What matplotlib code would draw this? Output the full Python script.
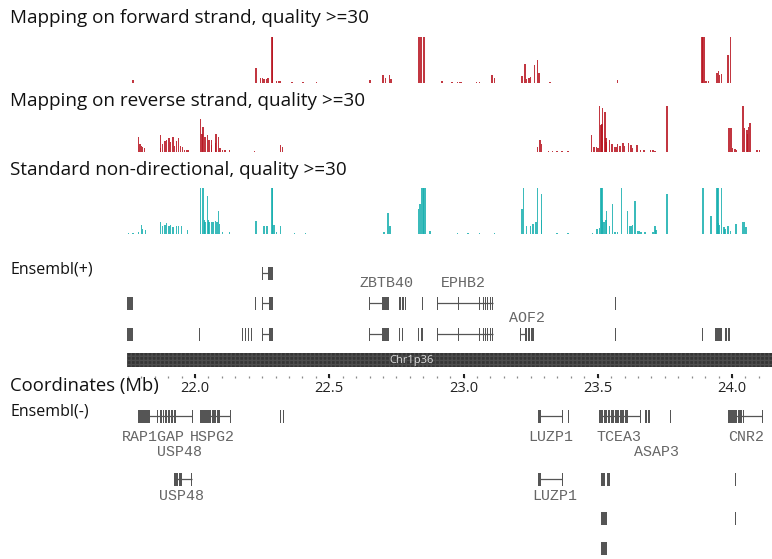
import matplotlib
matplotlib.use("Agg")
import matplotlib.pyplot as plt
from matplotlib.patches import Rectangle
import numpy as np

# ---------------- data ----------------
# coverage tracks: genomic position (Mb) and relative read depth (0-100)
fwd_pos = [21.769, 22.227, 22.243, 22.250, 22.257, 22.265, 22.272, 22.287, 22.290, 22.305, 22.313,
           22.320, 22.361, 22.402, 22.451, 22.652, 22.700, 22.711, 22.723, 22.730, 22.831, 22.838,
           22.845, 22.853, 22.920, 22.957, 22.979, 22.987, 22.994, 23.050, 23.061, 23.106, 23.114,
           23.218, 23.229, 23.236, 23.244, 23.251, 23.266, 23.277, 23.281, 23.322, 23.572, 23.888,
           23.892, 23.896, 23.903, 23.911, 23.944, 23.950, 23.955, 23.962, 23.985, 23.993]
fwd_val = [7, 33, 10, 11, 9, 8, 10, 100, 100, 5, 4,
           5, 3, 3, 3, 6, 17, 11, 17, 8, 100, 100,
           100, 100, 4, 3, 3, 3, 3, 3, 3, 17, 11,
           15, 41, 8, 10, 13, 39, 50, 22, 2, 6, 100,
           100, 100, 4, 4, 22, 26, 17, 20, 60, 100]

rev_pos = [21.791, 21.795, 21.800, 21.806, 21.813, 21.870, 21.873, 21.880, 21.888, 21.895, 21.903,
           21.910, 21.918, 21.925, 21.932, 21.940, 21.947, 21.955, 21.962, 21.970, 21.977, 22.022,
           22.026, 22.030, 22.037, 22.045, 22.052, 22.060, 22.063, 22.075, 22.078, 22.086, 22.093,
           22.101, 22.112, 22.127, 22.223, 22.317, 22.325, 23.277, 23.285, 23.289, 23.315, 23.333,
           23.348, 23.367, 23.389, 23.478, 23.486, 23.494, 23.501, 23.508, 23.512, 23.516, 23.519,
           23.527, 23.531, 23.534, 23.545, 23.553, 23.564, 23.571, 23.575, 23.583, 23.594, 23.601,
           23.616, 23.624, 23.631, 23.646, 23.660, 23.672, 23.695, 23.706, 23.713, 23.758, 23.989,
           23.996, 24.003, 24.011, 24.018, 24.041, 24.048, 24.056, 24.059, 24.063, 24.067, 24.093,
           24.101]
rev_val = [33, 17, 13, 11, 9, 8, 37, 18, 25, 26, 30,
           22, 33, 12, 25, 30, 14, 10, 5, 4, 4, 72,
           40, 55, 33, 37, 26, 26, 15, 20, 39, 33, 8,
           5, 5, 4, 3, 15, 10, 10, 26, 18, 3, 3,
           3, 3, 2, 37, 10, 11, 9, 100, 59, 60, 96,
           87, 30, 22, 26, 17, 11, 10, 17, 13, 20, 12,
           20, 15, 8, 15, 5, 4, 4, 4, 3, 100, 52,
           52, 8, 6, 5, 100, 52, 48, 40, 54, 63, 4,
           4]

std_pos = [21.751, 21.769, 21.788, 21.802, 21.806, 21.817, 21.873, 21.880, 21.888, 21.895, 21.903,
           21.910, 21.918, 21.932, 21.940, 21.951, 21.973, 22.022, 22.030, 22.034, 22.037, 22.045,
           22.049, 22.052, 22.060, 22.067, 22.075, 22.082, 22.086, 22.090, 22.104, 22.130, 22.227,
           22.257, 22.268, 22.287, 22.290, 22.294, 22.305, 22.320, 22.369, 22.410, 22.704, 22.719,
           22.726, 22.831, 22.838, 22.845, 22.849, 22.853, 22.857, 22.875, 22.979, 23.017, 23.061,
           23.117, 23.218, 23.225, 23.236, 23.248, 23.259, 23.270, 23.277, 23.289, 23.292, 23.348,
           23.389, 23.482, 23.497, 23.505, 23.512, 23.516, 23.519, 23.523, 23.531, 23.534, 23.545,
           23.556, 23.564, 23.575, 23.590, 23.612, 23.620, 23.627, 23.631, 23.639, 23.650, 23.657,
           23.661, 23.676, 23.706, 23.713, 23.717, 23.758, 23.892, 23.922, 23.944, 23.948, 23.951,
           23.955, 23.962, 23.970, 23.974, 23.985, 23.993, 24.015, 24.041, 24.048, 24.052]
std_val = [2, 3, 4, 20, 11, 9, 26, 17, 20, 24, 17,
           20, 15, 17, 17, 17, 9, 100, 100, 30, 26, 83,
           30, 26, 26, 26, 28, 26, 50, 22, 4, 4, 28,
           17, 17, 100, 100, 20, 5, 17, 3, 3, 4, 46,
           17, 54, 65, 100, 100, 100, 100, 6, 3, 3, 3,
           3, 54, 100, 17, 17, 22, 26, 100, 30, 87, 3,
           3, 3, 11, 13, 100, 100, 30, 26, 30, 50, 17,
           65, 5, 4, 100, 50, 17, 17, 20, 72, 6, 6,
           5, 4, 5, 17, 8, 87, 100, 39, 100, 100, 25,
           20, 100, 15, 11, 17, 6, 22, 26, 26, 15]

track_titles = ["Mapping on forward strand, quality >=30",
                "Mapping on reverse strand, quality >=30",
                "Standard non-directional, quality >=30"]

# gene models: (row, intron start, intron end, exons [(start, end)])
plus_genes = [
    (0, 22.250, 22.272, [(22.250, 22.252), (22.272, 22.290)]),
    (1, None, None, [(21.748, 21.768)]),
    (1, None, None, [(22.222, 22.224)]),
    (1, 22.250, 22.276, [(22.250, 22.252), (22.276, 22.290)]),
    (1, 22.648, 22.696, [(22.648, 22.650), (22.696, 22.722)]),
    (1, None, None, [(22.760, 22.766), (22.771, 22.777), (22.782, 22.787)]),
    (1, None, None, [(22.844, 22.846)]),
    (1, 22.901, 23.110, [(22.901, 22.902), (22.979, 22.981), (23.058, 23.060), (23.071, 23.074),
                         (23.080, 23.083), (23.088, 23.091), (23.097, 23.100), (23.106, 23.110)]),
    (1, None, None, [(23.563, 23.565)]),
    (2, None, None, [(21.748, 21.768)]),
    (2, None, None, [(22.014, 22.016)]),
    (2, None, None, [(22.174, 22.178), (22.185, 22.189), (22.196, 22.200), (22.207, 22.211)]),
    (2, 22.250, 22.276, [(22.250, 22.252), (22.276, 22.290)]),
    (2, 22.648, 22.696, [(22.648, 22.650), (22.696, 22.722)]),
    (2, None, None, [(22.760, 22.765), (22.770, 22.775)]),
    (2, None, None, [(22.831, 22.836), (22.842, 22.848)]),
    (2, 22.901, 23.110, [(22.901, 22.902), (22.979, 22.981), (23.058, 23.060), (23.071, 23.074),
                         (23.080, 23.083), (23.088, 23.091), (23.097, 23.100), (23.106, 23.110)]),
    (2, 23.210, 23.229, [(23.210, 23.212), (23.229, 23.236), (23.240, 23.248), (23.252, 23.262)]),
    (2, None, None, [(23.563, 23.565)]),
    (2, None, None, [(23.887, 23.889)]),
    (2, None, None, [(23.937, 23.950), (23.953, 23.963)]),
    (2, None, None, [(23.974, 23.982), (23.985, 23.993)]),
]
minus_genes = [
    (0, 21.788, 21.989, [(21.788, 21.832), (21.857, 21.859), (21.870, 21.876), (21.880, 21.886),
                         (21.890, 21.896), (21.900, 21.906), (21.910, 21.918), (21.922, 21.930),
                         (21.988, 21.990)]),
    (0, 22.019, 22.130, [(22.019, 22.060), (22.064, 22.078), (22.082, 22.093), (22.129, 22.131)]),
    (0, None, None, [(22.317, 22.320), (22.326, 22.333)]),
    (0, 23.277, 23.367, [(23.276, 23.278), (23.283, 23.285), (23.366, 23.368)]),
    (0, None, None, [(23.388, 23.390)]),
    (0, 23.505, 23.657, [(23.505, 23.520), (23.525, 23.533), (23.538, 23.546), (23.551, 23.559),
                         (23.563, 23.580), (23.584, 23.598), (23.603, 23.612), (23.656, 23.658)]),
    (0, None, None, [(23.676, 23.684), (23.688, 23.694)]),
    (0, None, None, [(23.768, 23.770)]),
    (0, 23.985, 24.112, [(23.985, 24.020), (24.024, 24.036), (24.040, 24.046), (24.111, 24.113)]),
    (1, 21.921, 21.987, [(21.921, 21.935), (21.940, 21.950), (21.986, 21.988)]),
    (1, 23.277, 23.367, [(23.276, 23.278), (23.283, 23.285), (23.366, 23.368)]),
    (1, None, None, [(23.512, 23.527), (23.533, 23.545)]),
    (1, None, None, [(24.010, 24.012)]),
    (2, None, None, [(23.512, 23.535)]),
    (2, None, None, [(24.010, 24.012)]),
    (3, None, None, [(23.512, 23.535)]),
]
plus_labels = [("ZBTB40", 22.715, 0), ("EPHB2", 22.998, 0), ("AOF2", 23.236, 1)]
minus_labels = [("RAP1GAP", 21.844, 0), ("HSPG2", 22.063, 0), ("LUZP1", 23.326, 0),
                ("TCEA3", 23.579, 0), ("CNR2", 24.052, 0), ("USP48", 21.944, 1),
                ("ASAP3", 23.720, 1), ("USP48", 21.951, 2), ("LUZP1", 23.341, 2)]

chrom_name = "Chr1p36"
major_ticks = [22.0, 22.5, 23.0, 23.5, 24.0]
major_labels = ["22.0", "22.5", "23.0", "23.5", "24.0"]

# ---------------- drawing ----------------
W, H = 772, 559
fig = plt.figure(figsize=(W / 100, H / 100), dpi=100)
ax = fig.add_axes([0, 0, 1, 1])
mb_per_px = 0.5 / 134.25
x0 = 22.0 - 195 * mb_per_px
ax.set_xlim(x0, x0 + W * mb_per_px)
ax.set_ylim(H, 0)
ax.axis("off")

sans = ["Open Sans", "DejaVu Sans"]
mono = ["Liberation Mono", "DejaVu Sans Mono"]
data_left = 21.7467
data_right = x0 + W * mb_per_px

RED = "#b8141f"
TEAL = "#18b0b0"
GENE = "#555555"
TRACK_H = 46
bw = 1.15 * mb_per_px

tracks = [(fwd_pos, fwd_val, 83, RED, 18), (rev_pos, rev_val, 152, RED, 101),
          (std_pos, std_val, 234, TEAL, 170)]
for (pos, val, base, col, ty), title in zip(tracks, track_titles):
    v = np.array(val, float) / 100 * TRACK_H
    ax.bar(pos, -v, width=bw, bottom=base, color=col, linewidth=0, alpha=0.85)
    ax.text(x0 + 10 * mb_per_px, ty, title, fontsize=13.6, family=sans, va="center", ha="left",
            color="#111111")

ax.text(x0 + 11 * mb_per_px, 270, "Ensembl(+)", fontsize=11.5, family=sans, va="center", color="#111111")
ax.text(x0 + 11 * mb_per_px, 412, "Ensembl(-)", fontsize=11.5, family=sans, va="center", color="#111111")
ax.text(x0 + 10 * mb_per_px, 386, "Coordinates (Mb)", fontsize=13.3, family=sans, va="center",
        color="#111111")


def draw_genes(genes, row_y, ex_h=13):
    for row, s, e, exons in genes:
        y = row_y[row]
        if s is not None:
            ax.plot([s, e], [y, y], color=GENE, lw=0.9, solid_capstyle="butt")
        for a, b in exons:
            w = max(b - a, 1.1 * mb_per_px)
            ax.add_patch(Rectangle((a, y - ex_h / 2), w, ex_h, facecolor=GENE, edgecolor="none"))


plus_rows = [273, 303, 334]
minus_rows = [416, 479, 518, 548]
draw_genes(plus_genes, plus_rows)
draw_genes(minus_genes, minus_rows)

plus_label_y = [283, 318]
for name, x, r in plus_labels:
    ax.text(x, plus_label_y[r], name, family=mono, fontsize=10.8, color="#666666", ha="center", va="center")
minus_label_y = [437, 452, 496]
for name, x, r in minus_labels:
    ax.text(x, minus_label_y[r], name, family=mono, fontsize=10.8, color="#666666", ha="center", va="center")

# chromosome band
ax.add_patch(Rectangle((data_left, 353), data_right - data_left, 14, facecolor="#353535",
                       edgecolor="#4c4c4c", hatch="++++", linewidth=0))
ax.text(22.808, 360, chrom_name, fontsize=8, family=sans, color="#dddddd", ha="center", va="center")

# ruler
minor = np.arange(21.75, data_right, 0.05)
ax.plot(minor, np.full_like(minor, 376.5), ls="none", marker="|", ms=1.5, mew=0.9, color="#8a8a8a")
ax.plot(major_ticks, np.full(len(major_ticks), 376), ls="none", marker="|", ms=3, mew=1.5, color="#222222")
for t, lab in zip(major_ticks, major_labels):
    ax.text(t, 389, lab, family=sans, fontsize=10.5, ha="center", va="center", color="#222222")

fig.savefig("out.png", dpi=100)
